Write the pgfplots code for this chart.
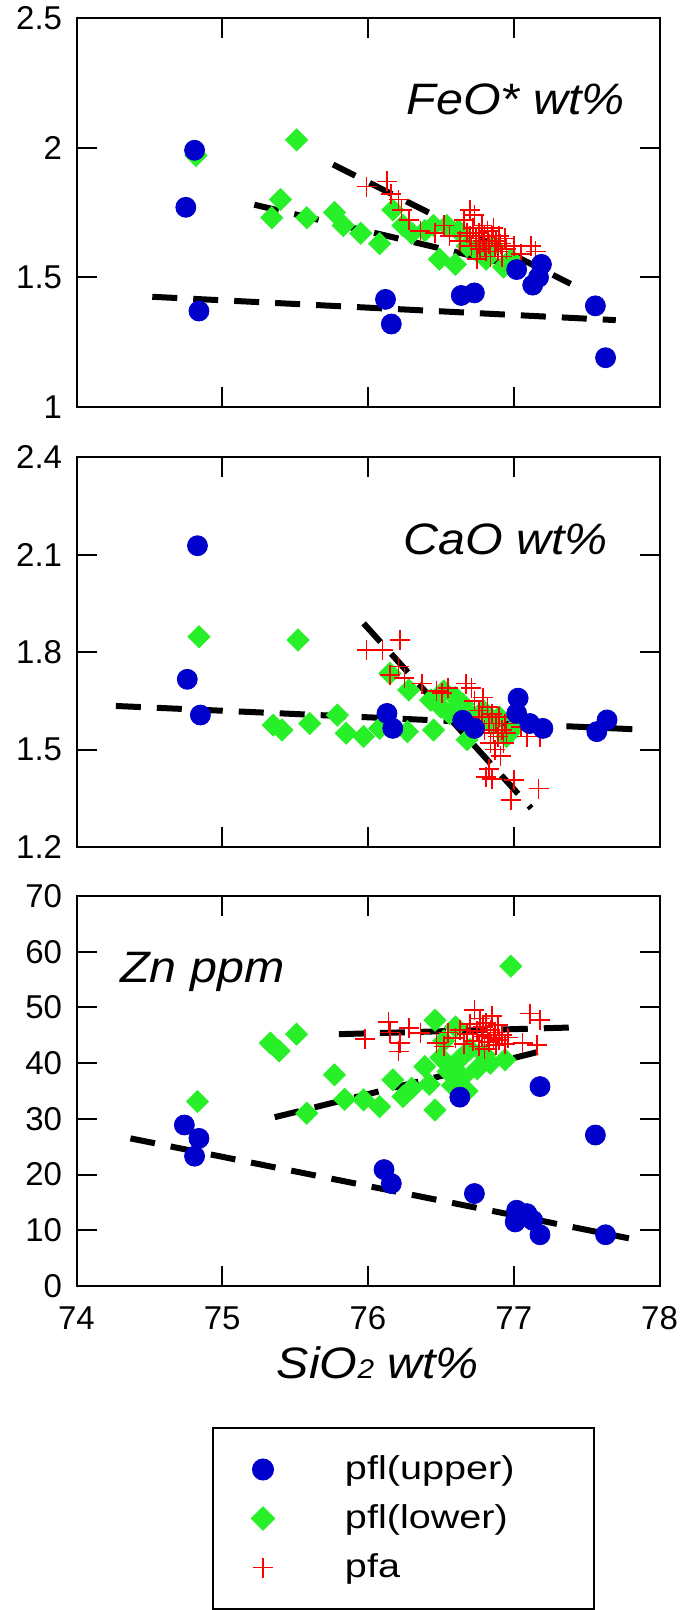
\documentclass[border=0pt]{standalone}
\usepackage{pgfplots}
\pgfplotsset{compat=1.18}
\usepackage{fontspec}
\setmainfont{Liberation Sans}
\newfontfamily\labfont{Liberation Sans}[FakeStretch=1.1]
\newfontfamily\legfont{Liberation Sans}[FakeStretch=1.2]
\definecolor{cblue}{RGB}{0,0,204}
\definecolor{cgreen}{RGB}{40,240,40}
\definecolor{cred}{RGB}{255,0,0}
\tikzset{plab/.style={inner sep=0pt, font=\labfont\fontsize{22}{26}\selectfont\itshape}}
\pgfplotsset{
  panel/.style={
    scale only axis, width=291.5pt, height=195pt,
    xmin=74, xmax=78,
    xtick={74,75,76,77,78},
    axis line style={line width=1pt},
    every tick/.style={black, line width=1pt},
    major tick length=10pt,
    tick align=inside,
    /pgf/number format/assume math mode=true,
    tick label style={font=\fontsize{16.5}{19}\selectfont},
    yticklabel style={inner sep=0pt, xshift=-7pt},
    xticklabel style={inner sep=0pt, yshift=-10pt},
    anchor=south west,
  },
  pu/.style={only marks, mark=*, mark size=5pt, color=cblue},
  pl/.style={only marks, mark=square*, mark size=3.9pt, mark options={rotate=45}, color=cgreen},
  pa/.style={only marks, mark=+, mark size=5pt, color=cred, mark options={line width=0.85pt}},
  trend/.style={black, line width=3pt, dash pattern=on 12.5pt off 8pt, no marks},
  legimg/.style={legend image code/.code={\path[draw=none,fill=none] (-25pt,-12.25pt) rectangle (10pt,12.25pt); \draw[##1] plot coordinates {(0pt,0pt)};}},
}
\begin{document}
\begin{tikzpicture}
\path[use as bounding box] (0,0) rectangle (340pt,-805pt);

% ---------------- Panel 1: FeO*
\begin{axis}[panel, at={(38.25pt,-203.5pt)}, height=194.5pt,
  ymin=1, ymax=2.5, ytick={1,1.5,2,2.5}, xticklabels={}]
\addplot[pl, forget plot] coordinates {
(74.82,1.97) (75.34,1.73) (75.40,1.80) (75.51,2.03) (75.58,1.73) (75.77,1.75)
(75.83,1.70) (75.95,1.67) (76.08,1.63) (76.17,1.76) (76.24,1.70) (76.30,1.67)
(76.39,1.68) (76.45,1.70) (76.49,1.57) (76.54,1.70) (76.60,1.55) (76.62,1.68)
(76.68,1.62) (76.75,1.60) (76.81,1.57) (76.86,1.62) (76.93,1.54) (76.98,1.57)
};
\addplot[pa, forget plot] coordinates {
(75.99,1.85) (76.13,1.87) (76.16,1.82) (76.21,1.80) (76.23,1.76) (76.28,1.72)
(76.36,1.68) (76.46,1.67) (76.52,1.70) (76.56,1.66) (76.63,1.64) (76.66,1.72)
(76.68,1.67) (76.70,1.76) (76.71,1.62) (76.72,1.69) (76.73,1.74) (76.74,1.65)
(76.75,1.57) (76.76,1.67) (76.77,1.61) (76.78,1.70) (76.79,1.64) (76.80,1.66)
(76.81,1.60) (76.82,1.68) (76.83,1.63) (76.84,1.58) (76.85,1.66) (76.86,1.69)
(76.87,1.62) (76.88,1.64) (76.89,1.60) (76.90,1.66) (76.91,1.63) (76.92,1.58)
(76.94,1.65) (76.95,1.61) (77.00,1.62) (77.05,1.59) (77.12,1.62) (77.15,1.60)
(76.80,1.62) (76.76,1.63) (76.70,1.66)
};
\addplot[pu, forget plot] coordinates {
(74.75,1.77) (74.81,1.99) (74.84,1.37) (76.12,1.415) (76.16,1.32) (76.64,1.43)
(76.73,1.44) (77.02,1.53) (77.13,1.47) (77.19,1.55) (77.17,1.50) (77.56,1.39)
(77.63,1.19)
};
\addplot[trend, forget plot] coordinates {(74.52,1.425) (77.70,1.335)};
\addplot[trend, forget plot] coordinates {(75.22,1.78) (77.04,1.54)};
\addplot[trend, forget plot] coordinates {(75.76,1.935) (77.39,1.475)};
\node[plab, anchor=base east] at (rel axis cs:0.941,0.751) {FeO* wt\%};
\end{axis}

% ---------------- Panel 2: CaO
\begin{axis}[panel, at={(38.25pt,-423.5pt)},
  ymin=1.2, ymax=2.4, ytick={1.2,1.5,1.8,2.1,2.4}, xticklabels={}]
\addplot[pl, forget plot] coordinates {
(74.84,1.847) (75.52,1.837) (75.35,1.575) (75.41,1.56) (75.60,1.58) (75.79,1.606)
(75.85,1.55) (75.97,1.54) (76.08,1.565) (76.15,1.734) (76.28,1.683) (76.27,1.555)
(76.43,1.652) (76.45,1.56) (76.50,1.63) (76.56,1.611) (76.60,1.66) (76.65,1.64)
(76.68,1.53) (76.72,1.60) (76.79,1.62) (76.85,1.58) (76.90,1.60) (76.95,1.54)
(77.00,1.565) (76.52,1.68)
};
\addplot[pa, forget plot] coordinates {
(75.99,1.806) (76.10,1.806) (76.22,1.837) (76.15,1.73) (76.21,1.755) (76.25,1.72)
(76.37,1.703) (76.47,1.68) (76.51,1.673) (76.55,1.69) (76.67,1.703) (76.71,1.69)
(76.73,1.65) (76.76,1.62) (76.78,1.60) (76.79,1.66) (76.80,1.56) (76.82,1.63)
(76.83,1.58) (76.84,1.52) (76.85,1.61) (76.86,1.55) (76.87,1.50) (76.88,1.58)
(76.89,1.54) (76.90,1.60) (76.91,1.48) (76.92,1.56) (76.93,1.52) (76.94,1.58)
(76.95,1.55) (76.81,1.416) (76.85,1.41) (76.83,1.44) (77.00,1.406) (76.98,1.345)
(77.17,1.38) (77.09,1.54) (77.18,1.54) (77.05,1.57)
};
\addplot[pu, forget plot] coordinates {
(74.83,2.127) (74.76,1.716) (74.85,1.606) (76.13,1.611) (76.17,1.565) (76.65,1.59)
(76.73,1.565) (77.03,1.658) (77.02,1.611) (77.11,1.58) (77.20,1.565) (77.64,1.591)
(77.57,1.555)
};
\addplot[trend, forget plot] coordinates {(74.27,1.634) (77.84,1.562)};
\addplot[trend, forget plot] coordinates {(75.97,1.888) (77.12,1.319)};
\node[plab, anchor=base east] at (rel axis cs:0.912,0.749) {CaO wt\%};
\end{axis}

% ---------------- Panel 3: Zn
\begin{axis}[panel, at={(38.25pt,-643pt)},
  ymin=0, ymax=70, ytick={0,10,...,70},
  xlabel={\itshape SiO{\fontsize{13.5}{13.5}\selectfont 2} wt\%},
  xlabel style={at={(axis description cs:0.517,0)}, anchor=base, yshift=-46pt, font=\labfont\fontsize{22}{26}\selectfont},
  legend cell align=left,
  legend style={at={(0.2324,-0.3615)}, anchor=north west, draw=black, line width=1pt,
    inner xsep=0pt, inner ysep=8.5pt, row sep=0pt,
    font=\legfont\fontsize{16.5}{19}\selectfont,
    nodes={inner sep=0pt, text width=124.5pt},
    /tikz/every odd column/.append style={column sep=31pt}},
]
\addlegendimage{pu, legimg}\addlegendentry{pfl(upper)}
\addlegendimage{pl, legimg}\addlegendentry{pfl(lower)}
\addlegendimage{pa, legimg}\addlegendentry{pfa}
\addplot[pl, forget plot] coordinates {
(74.83,33.1) (75.33,43.6) (75.39,42.2) (75.51,45.2) (75.77,37.9) (75.58,31.0)
(75.84,33.5) (75.97,33.4) (76.08,32.2) (76.17,37.0) (76.24,34.0) (76.30,35.5)
(76.39,39.4) (76.42,36.2) (76.46,47.7) (76.46,31.6) (76.50,41.0) (76.55,38.5)
(76.58,36.0) (76.60,46.5) (76.62,40.5) (76.65,37.5) (76.70,42.5) (76.75,39.0)
(76.80,41.5) (76.84,40.0) (76.94,40.6) (76.98,57.4) (76.68,35.0) (76.52,44.0)
};
\addplot[pa, forget plot] coordinates {
(75.98,44.3) (76.14,47.4) (76.15,45.5) (76.22,43.6) (76.21,42.1) (76.28,46.3)
(76.36,45.4) (76.47,43.6) (76.52,43.0) (76.55,45.5) (76.60,44.5) (76.63,46.0)
(76.66,43.5) (76.68,45.2) (76.70,47.0) (76.72,44.0) (76.73,49.5) (76.75,45.8)
(76.76,43.0) (76.77,48.0) (76.78,44.8) (76.79,46.5) (76.80,42.5) (76.81,47.2)
(76.82,45.0) (76.83,43.8) (76.84,46.0) (76.85,48.5) (76.86,44.5) (76.87,45.5)
(76.88,43.2) (76.89,46.8) (76.90,44.2) (76.92,45.0) (76.94,43.5) (76.96,44.6)
(77.06,43.6) (77.11,48.9) (77.18,47.7) (77.16,43.3)
};
\addplot[pu, forget plot] coordinates {
(74.74,28.9) (74.84,26.5) (74.81,23.3) (76.11,20.9) (76.16,18.4) (76.63,33.9)
(77.18,35.8) (77.56,27.1) (76.73,16.6) (77.02,13.6) (77.01,11.5) (77.09,13.0)
(77.13,11.8) (77.18,9.2) (77.63,9.2)
};
\addplot[trend, forget plot] coordinates {(74.37,26.5) (77.79,8.56)};
\addplot[trend, forget plot] coordinates {(75.36,30.3) (77.18,42.1)};
\addplot[trend, forget plot] coordinates {(75.80,45.2) (77.39,46.4)};
\node[plab, anchor=base west] at (rel axis cs:0.0746,0.777) {Zn ppm};
\end{axis}
\end{tikzpicture}
\end{document}
